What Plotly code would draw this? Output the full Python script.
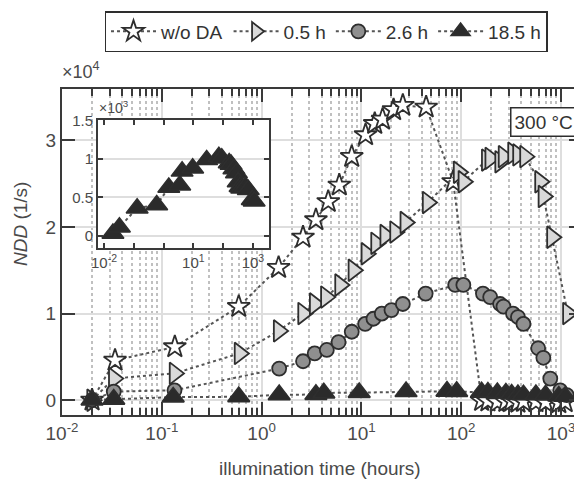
import plotly.graph_objects as go

# ---------------- data ----------------
x_wo = [0.02, 0.034, 0.135, 0.59, 1.48, 2.6, 3.5, 4.65, 6.0, 8.0, 11, 13.6, 16.3, 21, 26, 44.5, 83,
        160, 185, 230, 280, 320, 370, 420, 560, 700, 950, 1100]
y_wo = [0, 4600, 6150, 10800, 15300, 18800, 20800, 22900, 24800, 28100, 30600, 31900, 32400, 33500, 34000, 33800, 25200,
        -50, -100, -200, -150, -100, -250, -150, -200, -250, -300, -200]

x_05 = [0.02, 0.033, 0.134, 0.6, 1.48, 2.6, 3.4, 4.4, 6.1, 8.3, 11.2, 14, 17.3, 21.7, 27.5, 46, 94, 105,
        180, 195, 245, 265, 330, 370, 435, 615, 665, 810, 1170]
y_05 = [0, 2500, 3100, 5400, 8000, 10000, 11100, 11900, 13300, 15000, 16900, 18100, 19000, 19400, 20500, 22800, 26300, 25200,
        27700, 27900, 27500, 28100, 28500, 28300, 28100, 25200, 23500, 18800, 10000]

x_26 = [0.02, 0.033, 0.134, 1.5, 2.6, 3.4, 4.5, 5.9, 8.0, 10.9, 13.2, 16, 20, 26, 44, 87, 105,
        165, 195, 245, 265, 330, 370, 420, 590, 665, 780, 980, 1140]
y_26 = [0, 1000, 1150, 3650, 4500, 5400, 5800, 6700, 7900, 8800, 9400, 10000, 10400, 11100, 12300, 13300, 13300,
        12300, 11900, 11100, 10800, 10000, 9600, 8800, 6000, 4900, 2500, 1150, 600]

x_185 = [0.02, 0.033, 0.13, 0.59, 1.5, 3.5, 4.2, 9.5, 28, 72, 90, 160, 185, 230, 280, 320, 370, 420, 560, 700, 950, 1100]
y_185 = [30, 110, 360, 400, 630, 660, 840, 880, 990, 1030, 1010, 950, 930, 870, 820, 700, 640, 620, 640, 600, 470, 450]

series_names = ["w/o DA", "0.5 h", "2.6 h", "18.5 h"]

main_xtickvals = [0.01, 0.1, 1, 10, 100, 1000]
main_xticktext = ["10<sup>-2</sup>", "10<sup>-1</sup>", "10<sup>0</sup>", "10<sup>1</sup>", "10<sup>2</sup>", "10<sup>3</sup>"]
main_ytickvals = [0, 10000, 20000, 30000]
main_yticktext = ["0", "1", "2", "3"]
inset_xtickvals = [0.01, 0.1, 1, 10, 100, 1000]
inset_xticktext = ["10<sup>-2</sup>", "", "", "10<sup>1</sup>", "", "10<sup>3</sup>"]
inset_ytickvals = [0, 500, 1000, 1500]
inset_yticktext = ["0", "0.5", "1", "1.5"]

# ---------------- style ----------------
FONT = "Liberation Sans, Arial, sans-serif"
AX = "#3a3a3a"
TXT = "#4a4a4a"
EDGE = "#2e2e2e"
LINE = "#555555"

OFF = 8  # default page body margin
W, H = 582 - OFF, 485 - OFF
# plot area in window pixels: left 62, right 582, top 89, bottom 415
L, R, T, B = 62 - OFF, 0, 89 - OFF, 485 - 415
pw, ph = W - L - R, H - T - B

def px2paper_x(px):
    return (px - OFF - L) / pw

def px2paper_y(py):
    return (H - B - (py - OFF)) / ph

fig = go.Figure()

styles = [
    dict(symbol="star", size=17, color="white"),
    dict(symbol="triangle-right", size=19, color="#d9d9d9"),
    dict(symbol="circle", size=14, color="#8f8f8f"),
    dict(symbol="triangle-up", size=19, color="#2b2b2b"),
]
data_sets = [(x_wo, y_wo), (x_05, y_05), (x_26, y_26), (x_185, y_185)]

for (xs, ys), st, nm in zip(data_sets, styles, series_names):
    fig.add_trace(go.Scatter(
        x=xs, y=ys, name=nm, mode="lines+markers",
        line=dict(color=LINE, width=2, dash="dot"),
        marker=dict(symbol=st["symbol"], size=st["size"], color=st["color"],
                    line=dict(color=EDGE, width=1.8)),
        xaxis="x", yaxis="y", cliponaxis=False,
    ))

# inset
fig.add_trace(go.Scatter(
    x=x_185, y=y_185, mode="lines+markers", showlegend=False,
    line=dict(color=LINE, width=2, dash="dot"),
    marker=dict(symbol="triangle-up", size=19, color="#2b2b2b", line=dict(color=EDGE, width=1.5)),
    xaxis="x2", yaxis="y2", cliponaxis=False,
))

ins_l, ins_r, ins_t, ins_b = 98, 269, 120, 248

fig.update_layout(
    width=W, height=H,
    margin=dict(l=L, r=R, t=T, b=B, autoexpand=False),
    paper_bgcolor="white", plot_bgcolor="white",
    font=dict(family=FONT, color=TXT, size=18),
    showlegend=True,
    legend=dict(
        orientation="h", x=px2paper_x(326), xanchor="center",
        y=px2paper_y(11), yanchor="top",
        bordercolor=EDGE, borderwidth=1.5, bgcolor="white",
        font=dict(size=19, color="#333333"),
        itemwidth=45, tracegroupgap=0,
    ),
    xaxis=dict(
        type="log", range=[-2, 3.21], domain=[0, 1],
        tickvals=main_xtickvals, ticktext=main_xticktext,
        ticks="inside", ticklen=13, tickwidth=2, tickcolor=AX,
        showline=True, linecolor=AX, linewidth=2, mirror="ticks",
        showgrid=True, gridcolor="#dedede", gridwidth=2,
        minor=dict(dtick="D1", ticks="inside", ticklen=7, tickwidth=2, tickcolor=AX,
                   showgrid=True, gridcolor="#c0c0c0", gridwidth=1.5, griddash="dot"),
        zeroline=False, tickfont=dict(size=19, color=TXT),
    ),
    yaxis=dict(
        range=[-1700, 35900], domain=[0, 1],
        tickvals=main_ytickvals, ticktext=main_yticktext,
        ticks="inside", ticklen=13, tickwidth=2, tickcolor=AX,
        showline=True, linecolor=AX, linewidth=2, mirror="ticks",
        showgrid=True, gridcolor="#dedede", gridwidth=2,
        zeroline=False, tickfont=dict(size=19, color=TXT),
    ),
    xaxis2=dict(
        type="log", range=[-2.2, 3.54], anchor="y2",
        domain=[px2paper_x(ins_l), px2paper_x(ins_r)],
        tickvals=inset_xtickvals, ticktext=inset_xticktext,
        ticks="inside", ticklen=5, tickwidth=2, tickcolor=AX,
        showline=True, linecolor=AX, linewidth=2, mirror="ticks",
        showgrid=False, zeroline=False, tickfont=dict(size=15, color=TXT),
    ),
    yaxis2=dict(
        range=[-160, 1510], anchor="x2",
        domain=[px2paper_y(ins_b), px2paper_y(ins_t)],
        tickvals=inset_ytickvals, ticktext=inset_yticktext,
        ticks="inside", ticklen=5, tickwidth=2, tickcolor=AX,
        showline=True, linecolor=AX, linewidth=2, mirror="ticks",
        showgrid=True, gridcolor="#dedede", gridwidth=2,
        zeroline=False, tickfont=dict(size=15, color=TXT),
    ),
    shapes=[dict(type="rect", xref="x2 domain", yref="y2 domain", x0=0, x1=1, y0=0, y1=1,
                 fillcolor="white", line=dict(width=0), layer="below")],
    annotations=[
        dict(text="illumination time (hours)", xref="paper", yref="paper",
             x=px2paper_x(320), y=px2paper_y(468), xanchor="center", yanchor="middle",
             showarrow=False, font=dict(size=19, color=TXT)),
        dict(text="<i>NDD</i> (1/s)", xref="paper", yref="paper",
             x=px2paper_x(20), y=px2paper_y(224), xanchor="center", yanchor="middle",
             textangle=-90, showarrow=False, font=dict(size=19, color=TXT)),
        dict(text="×10<sup>4</sup>", xref="paper", yref="paper",
             x=px2paper_x(60), y=px2paper_y(84), xanchor="left", yanchor="bottom",
             showarrow=False, font=dict(size=18, color=TXT)),
        dict(text="×10<sup>3</sup>", xref="paper", yref="paper",
             x=px2paper_x(97), y=px2paper_y(118), xanchor="left", yanchor="bottom",
             showarrow=False, font=dict(size=14, color=TXT)),
        dict(text="300 °C&nbsp;", xref="paper", yref="paper",
             x=px2paper_x(510), y=px2paper_y(121.5), xanchor="left", yanchor="middle",
             showarrow=False, font=dict(size=19, color="#333333"),
             bordercolor=EDGE, borderwidth=1.5, borderpad=3, bgcolor="white"),
    ],
)

fig.write_html("out.html")
